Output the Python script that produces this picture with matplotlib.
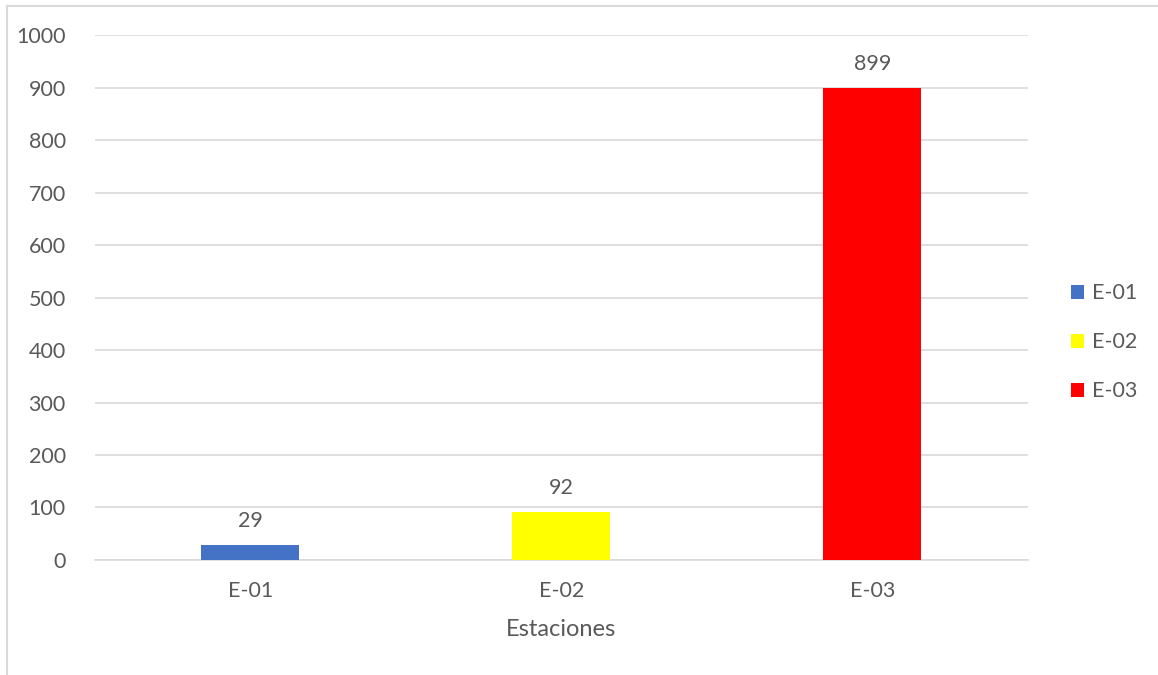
import matplotlib
matplotlib.use("Agg")
import matplotlib.pyplot as plt
from matplotlib.patches import Patch
from matplotlib.lines import Line2D

estaciones = ["E-01", "E-02", "E-03"]
valores = [29, 92, 899]
colores = ["#4472C4", "#FFFF00", "#FF0000"]
yticks = [0, 100, 200, 300, 400, 500, 600, 700, 800, 900, 1000]

plt.rcParams["font.family"] = ["Lato", "DejaVu Sans"]
texto = "#595959"
grid = "#D9D9D9"

fig = plt.figure(figsize=(11.58, 6.75), dpi=100)
ax = fig.add_axes([0.082, 0.1704, 0.8057, 0.7776])

x = range(len(estaciones))
ax.bar(x, valores, width=0.315, color=colores, zorder=3)
for xi, v in zip(x, valores):
    ax.annotate(str(v), (xi, v), xytext=(0, 10), textcoords="offset points",
                ha="center", va="bottom", fontsize=15.5, color=texto)

ax.set_xlim(-0.5, 2.5)
ax.set_ylim(0, 1000)
ax.set_yticks(yticks)
ax.set_xticks(list(x))
ax.set_xticklabels(estaciones)
ax.grid(axis="y", color=grid, linewidth=1.2, zorder=0)
for s in ["top", "right", "left"]:
    ax.spines[s].set_visible(False)
ax.spines["bottom"].set_color(grid)
ax.spines["bottom"].set_linewidth(1.2)
ax.tick_params(axis="both", length=0, labelsize=15.5, labelcolor=texto)
ax.tick_params(axis="y", pad=21)
ax.tick_params(axis="x", pad=15)
ax.set_xlabel("Estaciones", fontsize=17, color=texto, labelpad=13)

handles = [Patch(facecolor=c, edgecolor="none") for c in colores]
fig.legend(handles, estaciones, loc="center left", bbox_to_anchor=(0.908, 0.493),
           frameon=False, fontsize=15.5, labelcolor=texto, handlelength=0.62,
           handleheight=0.62, handletextpad=0.35, labelspacing=1.35)

# chart-area border (top and left edges)
fig.add_artist(Line2D([0.006, 1.0], [1 - 6 / 675, 1 - 6 / 675], color=grid,
                      linewidth=1.5, transform=fig.transFigure))
fig.add_artist(Line2D([0.006, 0.006], [0.0, 1 - 6 / 675], color=grid,
                      linewidth=1.5, transform=fig.transFigure))

fig.savefig("out.png", dpi=100)
